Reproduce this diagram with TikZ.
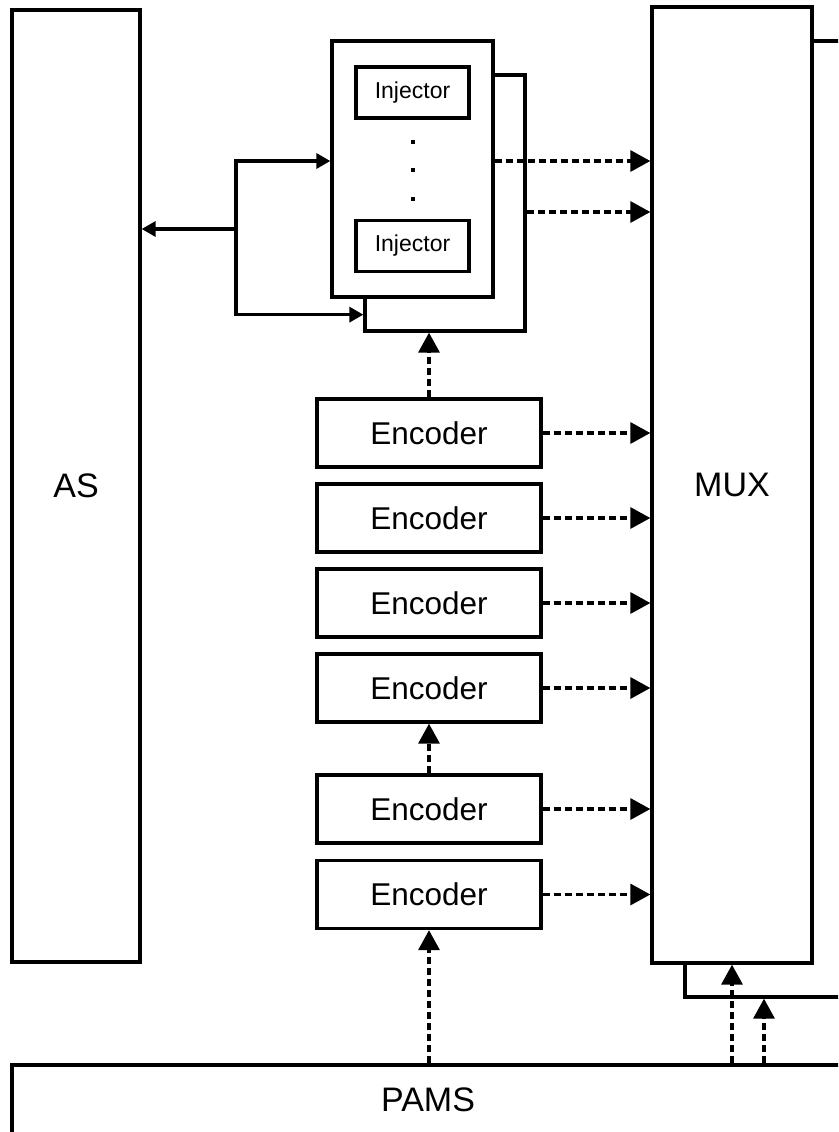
\documentclass[tikz,border=0pt]{standalone}
\usepackage{fontspec}
\setmainfont{Liberation Sans}
\usetikzlibrary{arrows.meta}
\tikzset{
  block/.style    = {shape=rectangle, draw, fill=white, line width=3.3pt,
                     inner sep=0pt, align=center},
  tall/.style     = {block, font=\fontsize{34}{40}\selectfont},
  encoder/.style  = {block, minimum width=224pt, minimum height=68pt,
                     font=\fontsize{31.5}{36}\selectfont},
  injector/.style = {block, minimum width=113pt, minimum height=51pt,
                     font=\fontsize{23}{27}\selectfont},
  link/.style     = {line width=3.3pt, dash pattern=on 7pt off 4pt,
                     -{Triangle[length=20pt,width=21pt]}},
  feed/.style     = {line width=3.3pt, -{Triangle[length=14pt,width=15pt]}}
}

\begin{document}
\begin{tikzpicture}[x=1pt, y=-1pt]
  \useasboundingbox (0,0) rectangle (838,1132);
  \clip (0,0) rectangle (838,1132);
  \fill[white] (0,0) rectangle (838,1132);

  % big blocks
  \node[tall, minimum width=128pt, minimum height=952pt] (as) at (76,486) {AS};
  \node[tall, minimum width=170pt, minimum height=956pt] (muxback) at (770,519) {};
  \node[tall, minimum width=160pt, minimum height=956pt] (mux) at (732,485) {MUX};
  \node[tall, minimum width=832pt, minimum height=69pt] (pams) at (428,1099.5) {PAMS};

  % injector group
  \node[block, minimum width=160pt, minimum height=256pt] (injback) at (445,203) {};
  \node[block, minimum width=161pt, minimum height=256pt] (injgroup) at (412.5,169) {};
  \node[injector] (inj1) at (412.5,92.5) {Injector};
  \node[injector] (inj2) at (412.5,246) {Injector};
  \foreach \y in {142,170,199}
    \fill (410.5,\y-2) rectangle (414.5,\y+2);

  % encoders
  \foreach \y/\n in {433/1,518/2,603/3,688/4,809/5,894.5/6}
    \node[encoder] (enc\n) at (429,\y) {Encoder};

  % solid feedback to AS
  \coordinate (split) at (236,229);
  \draw[feed] (split) -- (split -| as.east);
  \draw[feed] (split) |- ([yshift=8pt]injgroup.west);
  \draw[feed] (split) |- ([yshift=18pt]injback.south west);

  % dashed links
  \draw[link] ([yshift=8pt]injgroup.east) -- ([yshift=8pt]injgroup.east -| mux.west);
  \draw[link] ([yshift=-9pt]injback.east) -- ([yshift=-9pt]injback.east -| mux.west);
  \foreach \n in {1,...,6}
    \draw[link] (enc\n.east) -- (enc\n.east -| mux.west);
  \draw[link] (enc1.north) -- (enc1.north |- injback.south);
  \draw[link] (enc5.north) -- (enc4.south);
  \draw[link] (enc6.south |- pams.north) -- (enc6.south);
  \coordinate (pamsout) at ([xshift=32pt]mux.south);
  \draw[link] (mux.south |- pams.north) -- (mux.south);
  \draw[link] (pamsout |- pams.north) -- (pamsout |- muxback.south);
\end{tikzpicture}
\end{document}
